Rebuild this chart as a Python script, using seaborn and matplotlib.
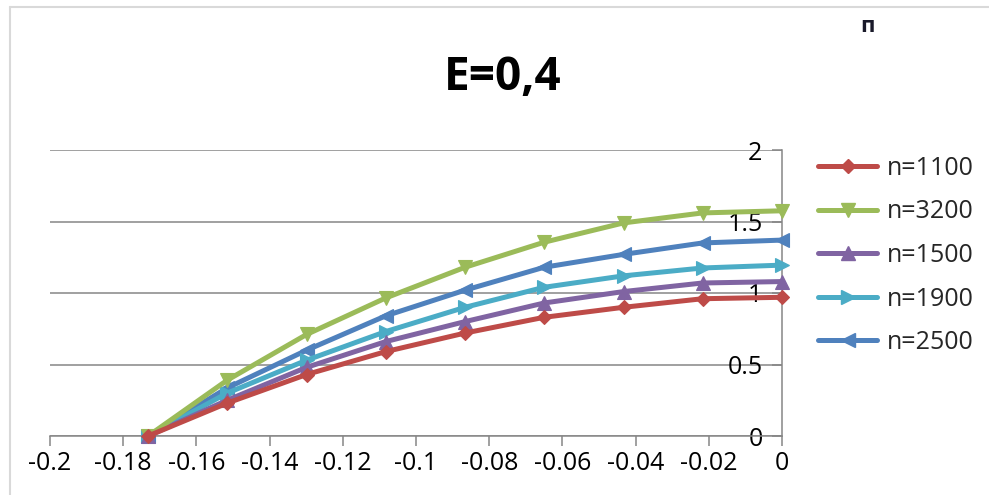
import numpy as np
import pandas as pd
import matplotlib
matplotlib.use("Agg")
import matplotlib.pyplot as plt
from matplotlib.lines import Line2D
import seaborn as sns

# ---- data ----
x_vals = [-0.1732, -0.1516, -0.1299, -0.1083, -0.0866, -0.0650, -0.0433, -0.0217, 0.0]
n1100 = [0, 0.23, 0.43, 0.59, 0.72, 0.83, 0.90, 0.96, 0.97]
n3200 = [0, 0.39, 0.71, 0.965, 1.18, 1.355, 1.49, 1.56, 1.575]
n1500 = [0, 0.25, 0.48, 0.66, 0.80, 0.93, 1.01, 1.07, 1.08]
n1900 = [0, 0.30, 0.53, 0.73, 0.90, 1.04, 1.12, 1.175, 1.195]
n2500 = [0, 0.336, 0.60, 0.84, 1.02, 1.18, 1.27, 1.35, 1.37]
series_labels = ["n=1100", "n=3200", "n=1500", "n=1900", "n=2500"]
xticks = [-0.2, -0.18, -0.16, -0.14, -0.12, -0.1, -0.08, -0.06, -0.04, -0.02, 0]
xticklabels = ["-0.2", "-0.18", "-0.16", "-0.14", "-0.12", "-0.1", "-0.08", "-0.06", "-0.04", "-0.02", "0"]
yticks = [0, 0.5, 1, 1.5, 2]
yticklabels = ["0", "0.5", "1", "1.5", "2"]
title = "E=0,4"

values = [n1100, n3200, n1500, n1900, n2500]
colors = ["#BE4B48", "#9BBB59", "#8064A2", "#4BACC6", "#4F81BD"]
markers = ["D", "v", "^", ">", "<"]
msizes = [7.5, 10, 10, 10, 10]

df = pd.DataFrame({
    "x": np.tile(x_vals, len(series_labels)),
    "y": np.concatenate(values),
    "series": np.repeat(series_labels, len(x_vals)),
})

sns.set_theme(style="white")
plt.rcParams["font.family"] = ["Open Sans", "DejaVu Sans"]

fig = plt.figure(figsize=(9.89, 4.95), dpi=100)
ax = fig.add_axes([50 / 989, 1 - 436 / 495, 732 / 989, 286 / 495])

grid_c = "#868686"
for i, lab in enumerate(series_labels):
    sns.lineplot(data=df[df["series"] == lab], x="x", y="y", ax=ax,
                 color=colors[i], marker=markers[i], markersize=msizes[i],
                 markeredgecolor=colors[i], markeredgewidth=0.8, linewidth=3.6,
                 clip_on=False, zorder=10 - i, legend=False)

ax.set_xlim(-0.2, 0)
ax.set_ylim(0, 2)
ax.set_xticks(xticks)
ax.set_xticklabels(xticklabels)
ax.set_yticks(yticks)
ax.set_yticklabels(yticklabels)
ax.set_xlabel("")
ax.set_ylabel("")
ax.grid(False)
ax.yaxis.grid(True, color=grid_c, linewidth=1.1)
ax.set_axisbelow(True)
for s in ["top", "left"]:
    ax.spines[s].set_visible(False)
for s in ["bottom", "right"]:
    ax.spines[s].set_color(grid_c)
    ax.spines[s].set_linewidth(1.1)

ax.tick_params(axis="x", bottom=True, direction="out", length=7, width=1.1,
               color=grid_c, labelsize=18, pad=4, labelcolor="black")
ax.yaxis.tick_right()
ax.tick_params(axis="y", right=True, left=False, direction="in", length=7, width=1.1,
               color=grid_c, labelsize=18, pad=-14, labelcolor="black")
for t in ax.get_yticklabels():
    t.set_ha("right")

handles = [Line2D([], [], color=colors[i], marker=markers[i], markersize=msizes[i],
                  markeredgecolor=colors[i], linewidth=3.6) for i in range(len(series_labels))]
fig.legend(handles, series_labels, loc="upper left",
           bbox_to_anchor=(818 / 989, 1 - 156 / 495), frameon=False, fontsize=18,
           handlelength=2.36, handletextpad=0.4, labelspacing=0.74,
           borderpad=0, borderaxespad=0)

fig.text(503 / 989, 1 - 77 / 495, title, ha="center", va="center",
         fontsize=33, fontweight="bold", color="black")
fig.text(868 / 989, 1 - 27 / 495, "п", ha="center", va="center",
         fontsize=16, fontweight="bold", color="#1a1a2a")

# chart-area border
fig.add_artist(Line2D([9.5 / 989, 9.5 / 989], [0, 1 - 6.5 / 495], transform=fig.transFigure,
                      color="#d9d9d9", linewidth=1.5))
fig.add_artist(Line2D([9.5 / 989, 1], [1 - 6.5 / 495, 1 - 6.5 / 495], transform=fig.transFigure,
                      color="#d9d9d9", linewidth=1.5))

fig.savefig("out.png", dpi=100)
